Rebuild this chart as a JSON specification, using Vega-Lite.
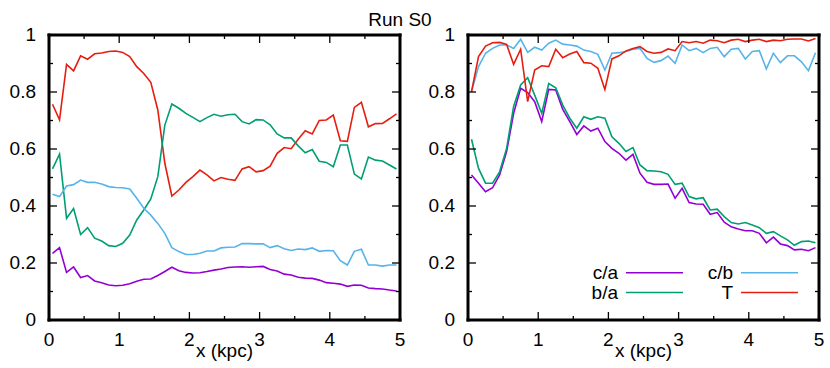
{
"$schema":"https://vega.github.io/schema/vega-lite/v6.json",
"padding":{"left":9,"top":11,"right":5,"bottom":5},
"title":{"text":"Run S0","fontSize":19,"fontWeight":"normal","font":"Liberation Sans","color":"black","anchor":"middle","dx":-17,"offset":-4},
"config":{"font":"Liberation Sans","view":{"stroke":null},"text":{"font":"Liberation Sans","fontSize":19,"color":"black"}},
"spacing":22,
"resolve":{"scale":{"color":"independent"},"legend":{"color":"independent"}},
"datasets":{
"xframe":[{"v":0},{"v":5}],
"yframe":[{"v":0},{"v":1}],
"xmaj":[{"v":0},{"v":1},{"v":2},{"v":3},{"v":4},{"v":5}],
"xmin":[{"v":0.5},{"v":1.5},{"v":2.5},{"v":3.5},{"v":4.5}],
"ymaj":[{"v":0},{"v":0.2},{"v":0.4},{"v":0.6},{"v":0.8},{"v":1}],
"ymin":[{"v":0.1},{"v":0.3},{"v":0.5},{"v":0.7},{"v":0.9}],
"xtitle":[{"t":"x (kpc)"}],
"left":[
{"s":"T","x":0.05,"y":0.757},{"s":"T","x":0.15,"y":0.702},{"s":"T","x":0.25,"y":0.897},{"s":"T","x":0.35,"y":0.874},{"s":"T","x":0.45,"y":0.927},{"s":"T","x":0.55,"y":0.915},{"s":"T","x":0.65,"y":0.934},{"s":"T","x":0.75,"y":0.937},{"s":"T","x":0.85,"y":0.942},{"s":"T","x":0.95,"y":0.944},
{"s":"T","x":1.05,"y":0.939},{"s":"T","x":1.15,"y":0.924},{"s":"T","x":1.25,"y":0.889},{"s":"T","x":1.35,"y":0.865},{"s":"T","x":1.45,"y":0.834},{"s":"T","x":1.55,"y":0.737},{"s":"T","x":1.65,"y":0.55},{"s":"T","x":1.75,"y":0.435},{"s":"T","x":1.85,"y":0.456},{"s":"T","x":1.95,"y":0.483},
{"s":"T","x":2.05,"y":0.503},{"s":"T","x":2.15,"y":0.526},{"s":"T","x":2.25,"y":0.509},{"s":"T","x":2.35,"y":0.488},{"s":"T","x":2.45,"y":0.5},{"s":"T","x":2.55,"y":0.494},{"s":"T","x":2.65,"y":0.49},{"s":"T","x":2.75,"y":0.53},{"s":"T","x":2.85,"y":0.538},{"s":"T","x":2.95,"y":0.52},
{"s":"T","x":3.05,"y":0.524},{"s":"T","x":3.15,"y":0.54},{"s":"T","x":3.25,"y":0.585},{"s":"T","x":3.35,"y":0.605},{"s":"T","x":3.45,"y":0.601},{"s":"T","x":3.55,"y":0.634},{"s":"T","x":3.65,"y":0.664},{"s":"T","x":3.75,"y":0.653},{"s":"T","x":3.85,"y":0.7},{"s":"T","x":3.95,"y":0.702},
{"s":"T","x":4.05,"y":0.719},{"s":"T","x":4.15,"y":0.629},{"s":"T","x":4.25,"y":0.627},{"s":"T","x":4.35,"y":0.746},{"s":"T","x":4.45,"y":0.764},{"s":"T","x":4.55,"y":0.678},{"s":"T","x":4.65,"y":0.689},{"s":"T","x":4.75,"y":0.69},{"s":"T","x":4.85,"y":0.706},{"s":"T","x":4.95,"y":0.723},
{"s":"b/a","x":0.05,"y":0.53},{"s":"b/a","x":0.15,"y":0.582},{"s":"b/a","x":0.25,"y":0.357},{"s":"b/a","x":0.35,"y":0.391},{"s":"b/a","x":0.45,"y":0.3},{"s":"b/a","x":0.55,"y":0.324},{"s":"b/a","x":0.65,"y":0.287},{"s":"b/a","x":0.75,"y":0.277},{"s":"b/a","x":0.85,"y":0.261},{"s":"b/a","x":0.95,"y":0.258},
{"s":"b/a","x":1.05,"y":0.269},{"s":"b/a","x":1.15,"y":0.298},{"s":"b/a","x":1.25,"y":0.351},{"s":"b/a","x":1.35,"y":0.386},{"s":"b/a","x":1.45,"y":0.425},{"s":"b/a","x":1.55,"y":0.503},{"s":"b/a","x":1.65,"y":0.684},{"s":"b/a","x":1.75,"y":0.758},{"s":"b/a","x":1.85,"y":0.743},{"s":"b/a","x":1.95,"y":0.725},
{"s":"b/a","x":2.05,"y":0.711},{"s":"b/a","x":2.15,"y":0.696},{"s":"b/a","x":2.25,"y":0.71},{"s":"b/a","x":2.35,"y":0.722},{"s":"b/a","x":2.45,"y":0.715},{"s":"b/a","x":2.55,"y":0.72},{"s":"b/a","x":2.65,"y":0.722},{"s":"b/a","x":2.75,"y":0.696},{"s":"b/a","x":2.85,"y":0.688},{"s":"b/a","x":2.95,"y":0.703},
{"s":"b/a","x":3.05,"y":0.702},{"s":"b/a","x":3.15,"y":0.685},{"s":"b/a","x":3.25,"y":0.653},{"s":"b/a","x":3.35,"y":0.639},{"s":"b/a","x":3.45,"y":0.639},{"s":"b/a","x":3.55,"y":0.611},{"s":"b/a","x":3.65,"y":0.587},{"s":"b/a","x":3.75,"y":0.598},{"s":"b/a","x":3.85,"y":0.557},{"s":"b/a","x":3.95,"y":0.553},
{"s":"b/a","x":4.05,"y":0.538},{"s":"b/a","x":4.15,"y":0.614},{"s":"b/a","x":4.25,"y":0.614},{"s":"b/a","x":4.35,"y":0.512},{"s":"b/a","x":4.45,"y":0.495},{"s":"b/a","x":4.55,"y":0.572},{"s":"b/a","x":4.65,"y":0.561},{"s":"b/a","x":4.75,"y":0.558},{"s":"b/a","x":4.85,"y":0.544},{"s":"b/a","x":4.95,"y":0.53},
{"s":"c/b","x":0.05,"y":0.441},{"s":"c/b","x":0.15,"y":0.433},{"s":"c/b","x":0.25,"y":0.47},{"s":"c/b","x":0.35,"y":0.475},{"s":"c/b","x":0.45,"y":0.491},{"s":"c/b","x":0.55,"y":0.483},{"s":"c/b","x":0.65,"y":0.483},{"s":"c/b","x":0.75,"y":0.477},{"s":"c/b","x":0.85,"y":0.468},{"s":"c/b","x":0.95,"y":0.465},
{"s":"c/b","x":1.05,"y":0.464},{"s":"c/b","x":1.15,"y":0.46},{"s":"c/b","x":1.25,"y":0.427},{"s":"c/b","x":1.35,"y":0.392},{"s":"c/b","x":1.45,"y":0.368},{"s":"c/b","x":1.55,"y":0.339},{"s":"c/b","x":1.65,"y":0.304},{"s":"c/b","x":1.75,"y":0.254},{"s":"c/b","x":1.85,"y":0.24},{"s":"c/b","x":1.95,"y":0.23},
{"s":"c/b","x":2.05,"y":0.23},{"s":"c/b","x":2.15,"y":0.234},{"s":"c/b","x":2.25,"y":0.242},{"s":"c/b","x":2.35,"y":0.242},{"s":"c/b","x":2.45,"y":0.253},{"s":"c/b","x":2.55,"y":0.255},{"s":"c/b","x":2.65,"y":0.256},{"s":"c/b","x":2.75,"y":0.268},{"s":"c/b","x":2.85,"y":0.268},{"s":"c/b","x":2.95,"y":0.267},
{"s":"c/b","x":3.05,"y":0.267},{"s":"c/b","x":3.15,"y":0.254},{"s":"c/b","x":3.25,"y":0.261},{"s":"c/b","x":3.35,"y":0.25},{"s":"c/b","x":3.45,"y":0.244},{"s":"c/b","x":3.55,"y":0.249},{"s":"c/b","x":3.65,"y":0.247},{"s":"c/b","x":3.75,"y":0.253},{"s":"c/b","x":3.85,"y":0.241},{"s":"c/b","x":3.95,"y":0.244},
{"s":"c/b","x":4.05,"y":0.243},{"s":"c/b","x":4.15,"y":0.208},{"s":"c/b","x":4.25,"y":0.193},{"s":"c/b","x":4.35,"y":0.241},{"s":"c/b","x":4.45,"y":0.248},{"s":"c/b","x":4.55,"y":0.193},{"s":"c/b","x":4.65,"y":0.193},{"s":"c/b","x":4.75,"y":0.189},{"s":"c/b","x":4.85,"y":0.193},{"s":"c/b","x":4.95,"y":0.193},
{"s":"c/a","x":0.05,"y":0.234},{"s":"c/a","x":0.15,"y":0.254},{"s":"c/a","x":0.25,"y":0.167},{"s":"c/a","x":0.35,"y":0.186},{"s":"c/a","x":0.45,"y":0.149},{"s":"c/a","x":0.55,"y":0.156},{"s":"c/a","x":0.65,"y":0.137},{"s":"c/a","x":0.75,"y":0.131},{"s":"c/a","x":0.85,"y":0.123},{"s":"c/a","x":0.95,"y":0.12},
{"s":"c/a","x":1.05,"y":0.122},{"s":"c/a","x":1.15,"y":0.127},{"s":"c/a","x":1.25,"y":0.136},{"s":"c/a","x":1.35,"y":0.143},{"s":"c/a","x":1.45,"y":0.144},{"s":"c/a","x":1.55,"y":0.156},{"s":"c/a","x":1.65,"y":0.17},{"s":"c/a","x":1.75,"y":0.185},{"s":"c/a","x":1.85,"y":0.173},{"s":"c/a","x":1.95,"y":0.167},
{"s":"c/a","x":2.05,"y":0.165},{"s":"c/a","x":2.15,"y":0.166},{"s":"c/a","x":2.25,"y":0.17},{"s":"c/a","x":2.35,"y":0.175},{"s":"c/a","x":2.45,"y":0.179},{"s":"c/a","x":2.55,"y":0.184},{"s":"c/a","x":2.65,"y":0.186},{"s":"c/a","x":2.75,"y":0.187},{"s":"c/a","x":2.85,"y":0.185},{"s":"c/a","x":2.95,"y":0.187},
{"s":"c/a","x":3.05,"y":0.188},{"s":"c/a","x":3.15,"y":0.177},{"s":"c/a","x":3.25,"y":0.172},{"s":"c/a","x":3.35,"y":0.161},{"s":"c/a","x":3.45,"y":0.158},{"s":"c/a","x":3.55,"y":0.15},{"s":"c/a","x":3.65,"y":0.147},{"s":"c/a","x":3.75,"y":0.146},{"s":"c/a","x":3.85,"y":0.14},{"s":"c/a","x":3.95,"y":0.131},
{"s":"c/a","x":4.05,"y":0.129},{"s":"c/a","x":4.15,"y":0.126},{"s":"c/a","x":4.25,"y":0.118},{"s":"c/a","x":4.35,"y":0.123},{"s":"c/a","x":4.45,"y":0.122},{"s":"c/a","x":4.55,"y":0.112},{"s":"c/a","x":4.65,"y":0.11},{"s":"c/a","x":4.75,"y":0.109},{"s":"c/a","x":4.85,"y":0.105},{"s":"c/a","x":4.95,"y":0.102}
],
"right":[
{"s":"c/a","x":0.05,"y":0.509},{"s":"c/a","x":0.15,"y":0.48},{"s":"c/a","x":0.25,"y":0.45},{"s":"c/a","x":0.35,"y":0.464},{"s":"c/a","x":0.45,"y":0.509},{"s":"c/a","x":0.55,"y":0.591},{"s":"c/a","x":0.65,"y":0.725},{"s":"c/a","x":0.75,"y":0.813},{"s":"c/a","x":0.85,"y":0.798},{"s":"c/a","x":0.95,"y":0.766},
{"s":"c/a","x":1.05,"y":0.696},{"s":"c/a","x":1.15,"y":0.809},{"s":"c/a","x":1.25,"y":0.807},{"s":"c/a","x":1.35,"y":0.739},{"s":"c/a","x":1.45,"y":0.696},{"s":"c/a","x":1.55,"y":0.651},{"s":"c/a","x":1.65,"y":0.681},{"s":"c/a","x":1.75,"y":0.663},{"s":"c/a","x":1.85,"y":0.673},{"s":"c/a","x":1.95,"y":0.626},
{"s":"c/a","x":2.05,"y":0.602},{"s":"c/a","x":2.15,"y":0.585},{"s":"c/a","x":2.25,"y":0.561},{"s":"c/a","x":2.35,"y":0.581},{"s":"c/a","x":2.45,"y":0.515},{"s":"c/a","x":2.55,"y":0.483},{"s":"c/a","x":2.65,"y":0.476},{"s":"c/a","x":2.75,"y":0.476},{"s":"c/a","x":2.85,"y":0.477},{"s":"c/a","x":2.95,"y":0.427},
{"s":"c/a","x":3.05,"y":0.462},{"s":"c/a","x":3.15,"y":0.412},{"s":"c/a","x":3.25,"y":0.407},{"s":"c/a","x":3.35,"y":0.406},{"s":"c/a","x":3.45,"y":0.371},{"s":"c/a","x":3.55,"y":0.377},{"s":"c/a","x":3.65,"y":0.343},{"s":"c/a","x":3.75,"y":0.327},{"s":"c/a","x":3.85,"y":0.319},{"s":"c/a","x":3.95,"y":0.313},
{"s":"c/a","x":4.05,"y":0.313},{"s":"c/a","x":4.15,"y":0.304},{"s":"c/a","x":4.25,"y":0.271},{"s":"c/a","x":4.35,"y":0.291},{"s":"c/a","x":4.45,"y":0.267},{"s":"c/a","x":4.55,"y":0.261},{"s":"c/a","x":4.65,"y":0.246},{"s":"c/a","x":4.75,"y":0.248},{"s":"c/a","x":4.85,"y":0.243},{"s":"c/a","x":4.95,"y":0.254},
{"s":"b/a","x":0.05,"y":0.634},{"s":"b/a","x":0.15,"y":0.532},{"s":"b/a","x":0.25,"y":0.48},{"s":"b/a","x":0.35,"y":0.48},{"s":"b/a","x":0.45,"y":0.52},{"s":"b/a","x":0.55,"y":0.602},{"s":"b/a","x":0.65,"y":0.749},{"s":"b/a","x":0.75,"y":0.825},{"s":"b/a","x":0.85,"y":0.85},{"s":"b/a","x":0.95,"y":0.789},
{"s":"b/a","x":1.05,"y":0.725},{"s":"b/a","x":1.15,"y":0.83},{"s":"b/a","x":1.25,"y":0.815},{"s":"b/a","x":1.35,"y":0.754},{"s":"b/a","x":1.45,"y":0.708},{"s":"b/a","x":1.55,"y":0.673},{"s":"b/a","x":1.65,"y":0.713},{"s":"b/a","x":1.75,"y":0.704},{"s":"b/a","x":1.85,"y":0.713},{"s":"b/a","x":1.95,"y":0.708},
{"s":"b/a","x":2.05,"y":0.643},{"s":"b/a","x":2.15,"y":0.62},{"s":"b/a","x":2.25,"y":0.591},{"s":"b/a","x":2.35,"y":0.605},{"s":"b/a","x":2.45,"y":0.544},{"s":"b/a","x":2.55,"y":0.524},{"s":"b/a","x":2.65,"y":0.523},{"s":"b/a","x":2.75,"y":0.52},{"s":"b/a","x":2.85,"y":0.511},{"s":"b/a","x":2.95,"y":0.476},
{"s":"b/a","x":3.05,"y":0.48},{"s":"b/a","x":3.15,"y":0.433},{"s":"b/a","x":3.25,"y":0.425},{"s":"b/a","x":3.35,"y":0.429},{"s":"b/a","x":3.45,"y":0.386},{"s":"b/a","x":3.55,"y":0.389},{"s":"b/a","x":3.65,"y":0.363},{"s":"b/a","x":3.75,"y":0.342},{"s":"b/a","x":3.85,"y":0.337},{"s":"b/a","x":3.95,"y":0.342},
{"s":"b/a","x":4.05,"y":0.333},{"s":"b/a","x":4.15,"y":0.324},{"s":"b/a","x":4.25,"y":0.304},{"s":"b/a","x":4.35,"y":0.31},{"s":"b/a","x":4.45,"y":0.295},{"s":"b/a","x":4.55,"y":0.281},{"s":"b/a","x":4.65,"y":0.262},{"s":"b/a","x":4.75,"y":0.275},{"s":"b/a","x":4.85,"y":0.277},{"s":"b/a","x":4.95,"y":0.271},
{"s":"c/b","x":0.05,"y":0.801},{"s":"c/b","x":0.15,"y":0.889},{"s":"c/b","x":0.25,"y":0.936},{"s":"c/b","x":0.35,"y":0.953},{"s":"c/b","x":0.45,"y":0.965},{"s":"c/b","x":0.55,"y":0.965},{"s":"c/b","x":0.65,"y":0.953},{"s":"c/b","x":0.75,"y":0.985},{"s":"c/b","x":0.85,"y":0.939},{"s":"c/b","x":0.95,"y":0.957},
{"s":"c/b","x":1.05,"y":0.947},{"s":"c/b","x":1.15,"y":0.971},{"s":"c/b","x":1.25,"y":0.982},{"s":"c/b","x":1.35,"y":0.968},{"s":"c/b","x":1.45,"y":0.965},{"s":"c/b","x":1.55,"y":0.961},{"s":"c/b","x":1.65,"y":0.947},{"s":"c/b","x":1.75,"y":0.942},{"s":"c/b","x":1.85,"y":0.932},{"s":"c/b","x":1.95,"y":0.877},
{"s":"c/b","x":2.05,"y":0.936},{"s":"c/b","x":2.15,"y":0.938},{"s":"c/b","x":2.25,"y":0.942},{"s":"c/b","x":2.35,"y":0.95},{"s":"c/b","x":2.45,"y":0.953},{"s":"c/b","x":2.55,"y":0.918},{"s":"c/b","x":2.65,"y":0.904},{"s":"c/b","x":2.75,"y":0.91},{"s":"c/b","x":2.85,"y":0.926},{"s":"c/b","x":2.95,"y":0.901},
{"s":"c/b","x":3.05,"y":0.965},{"s":"c/b","x":3.15,"y":0.945},{"s":"c/b","x":3.25,"y":0.953},{"s":"c/b","x":3.35,"y":0.938},{"s":"c/b","x":3.45,"y":0.953},{"s":"c/b","x":3.55,"y":0.957},{"s":"c/b","x":3.65,"y":0.924},{"s":"c/b","x":3.75,"y":0.95},{"s":"c/b","x":3.85,"y":0.953},{"s":"c/b","x":3.95,"y":0.916},
{"s":"c/b","x":4.05,"y":0.942},{"s":"c/b","x":4.15,"y":0.945},{"s":"c/b","x":4.25,"y":0.881},{"s":"c/b","x":4.35,"y":0.936},{"s":"c/b","x":4.45,"y":0.903},{"s":"c/b","x":4.55,"y":0.927},{"s":"c/b","x":4.65,"y":0.927},{"s":"c/b","x":4.75,"y":0.906},{"s":"c/b","x":4.85,"y":0.875},{"s":"c/b","x":4.95,"y":0.938},
{"s":"T","x":0.05,"y":0.801},{"s":"T","x":0.15,"y":0.924},{"s":"T","x":0.25,"y":0.961},{"s":"T","x":0.35,"y":0.973},{"s":"T","x":0.45,"y":0.974},{"s":"T","x":0.55,"y":0.967},{"s":"T","x":0.65,"y":0.897},{"s":"T","x":0.75,"y":0.95},{"s":"T","x":0.85,"y":0.766},{"s":"T","x":0.95,"y":0.877},
{"s":"T","x":1.05,"y":0.892},{"s":"T","x":1.15,"y":0.889},{"s":"T","x":1.25,"y":0.95},{"s":"T","x":1.35,"y":0.92},{"s":"T","x":1.45,"y":0.933},{"s":"T","x":1.55,"y":0.942},{"s":"T","x":1.65,"y":0.903},{"s":"T","x":1.75,"y":0.901},{"s":"T","x":1.85,"y":0.883},{"s":"T","x":1.95,"y":0.809},
{"s":"T","x":2.05,"y":0.916},{"s":"T","x":2.15,"y":0.927},{"s":"T","x":2.25,"y":0.944},{"s":"T","x":2.35,"y":0.953},{"s":"T","x":2.45,"y":0.959},{"s":"T","x":2.55,"y":0.942},{"s":"T","x":2.65,"y":0.936},{"s":"T","x":2.75,"y":0.939},{"s":"T","x":2.85,"y":0.951},{"s":"T","x":2.95,"y":0.945},
{"s":"T","x":3.05,"y":0.977},{"s":"T","x":3.15,"y":0.973},{"s":"T","x":3.25,"y":0.977},{"s":"T","x":3.35,"y":0.971},{"s":"T","x":3.45,"y":0.982},{"s":"T","x":3.55,"y":0.98},{"s":"T","x":3.65,"y":0.973},{"s":"T","x":3.75,"y":0.982},{"s":"T","x":3.85,"y":0.985},{"s":"T","x":3.95,"y":0.977},
{"s":"T","x":4.05,"y":0.982},{"s":"T","x":4.15,"y":0.985},{"s":"T","x":4.25,"y":0.977},{"s":"T","x":4.35,"y":0.982},{"s":"T","x":4.45,"y":0.98},{"s":"T","x":4.55,"y":0.985},{"s":"T","x":4.65,"y":0.986},{"s":"T","x":4.75,"y":0.986},{"s":"T","x":4.85,"y":0.979},{"s":"T","x":4.95,"y":0.988}
]},
"hconcat":[
{"width":351,"height":285,
"layer":[
{"data":{"name":"left"},"mark":{"type":"line","strokeWidth":1.6},
"encoding":{
"x":{"field":"x","type":"quantitative","scale":{"domain":[0,5],"nice":false,"zero":false},"axis":null},
"y":{"field":"y","type":"quantitative","scale":{"domain":[0,1],"nice":false},"axis":null},
"color":{"field":"s","type":"nominal","scale":{"domain":["c/a","b/a","c/b","T"],"range":["#9400d3","#009e73","#56b4e9","#e51e10"]},"legend":null}}},
{"data":{"name":"xmaj"},"mark":{"type":"rule","color":"black","strokeWidth":1.3,"y2Offset":-8},"encoding":{"x":{"field":"v","type":"quantitative","axis":null},"y":{"datum":0,"type":"quantitative","axis":null},"y2":{"datum":0}}},
{"data":{"name":"xmaj"},"mark":{"type":"rule","color":"black","strokeWidth":1.3,"y2Offset":8},"encoding":{"x":{"field":"v","type":"quantitative","axis":null},"y":{"datum":1,"type":"quantitative","axis":null},"y2":{"datum":1}}},
{"data":{"name":"xmin"},"mark":{"type":"rule","color":"black","strokeWidth":1.3,"y2Offset":-4},"encoding":{"x":{"field":"v","type":"quantitative","axis":null},"y":{"datum":0,"type":"quantitative","axis":null},"y2":{"datum":0}}},
{"data":{"name":"xmin"},"mark":{"type":"rule","color":"black","strokeWidth":1.3,"y2Offset":4},"encoding":{"x":{"field":"v","type":"quantitative","axis":null},"y":{"datum":1,"type":"quantitative","axis":null},"y2":{"datum":1}}},
{"data":{"name":"ymaj"},"mark":{"type":"rule","color":"black","strokeWidth":1.3,"x2Offset":8},"encoding":{"y":{"field":"v","type":"quantitative","axis":null},"x":{"datum":0,"type":"quantitative","axis":null},"x2":{"datum":0}}},
{"data":{"name":"ymaj"},"mark":{"type":"rule","color":"black","strokeWidth":1.3,"x2Offset":-8},"encoding":{"y":{"field":"v","type":"quantitative","axis":null},"x":{"datum":5,"type":"quantitative","axis":null},"x2":{"datum":5}}},
{"data":{"name":"ymin"},"mark":{"type":"rule","color":"black","strokeWidth":1.3,"x2Offset":4},"encoding":{"y":{"field":"v","type":"quantitative","axis":null},"x":{"datum":0,"type":"quantitative","axis":null},"x2":{"datum":0}}},
{"data":{"name":"ymin"},"mark":{"type":"rule","color":"black","strokeWidth":1.3,"x2Offset":-4},"encoding":{"y":{"field":"v","type":"quantitative","axis":null},"x":{"datum":5,"type":"quantitative","axis":null},"x2":{"datum":5}}},
{"data":{"name":"xframe"},"mark":{"type":"rule","color":"black","strokeWidth":3,"strokeCap":"square"},"encoding":{"x":{"field":"v","type":"quantitative","axis":null}}},
{"data":{"name":"yframe"},"mark":{"type":"rule","color":"black","strokeWidth":3,"strokeCap":"square"},"encoding":{"y":{"field":"v","type":"quantitative","axis":null}}},
{"data":{"name":"xmaj"},"mark":{"type":"text","align":"center","baseline":"top","dy":11,"fontSize":19,"font":"Liberation Sans","color":"black"},"encoding":{"x":{"field":"v","type":"quantitative","axis":null},"y":{"datum":0,"type":"quantitative","axis":null},"text":{"field":"v","type":"quantitative","format":"~g"}}},
{"data":{"name":"ymaj"},"mark":{"type":"text","align":"right","baseline":"middle","dx":-13,"fontSize":19,"font":"Liberation Sans","color":"black"},"encoding":{"y":{"field":"v","type":"quantitative","axis":null},"x":{"datum":0,"type":"quantitative","axis":null},"text":{"field":"v","type":"quantitative","format":"~g"}}},
{"data":{"name":"xtitle"},"mark":{"type":"text","align":"center","baseline":"alphabetic","dy":37,"fontSize":19,"font":"Liberation Sans","color":"black"},"encoding":{"x":{"datum":2.5,"type":"quantitative","axis":null},"y":{"datum":0,"type":"quantitative","axis":null},"text":{"field":"t","type":"nominal"}}}
]},
{"width":351,"height":285,
"layer":[
{"data":{"name":"right"},"mark":{"type":"line","strokeWidth":1.6},
"encoding":{
"x":{"field":"x","type":"quantitative","scale":{"domain":[0,5],"nice":false,"zero":false},"axis":null},
"y":{"field":"y","type":"quantitative","scale":{"domain":[0,1],"nice":false},"axis":null},
"color":{"field":"s","type":"nominal","scale":{"domain":["c/a","b/a","c/b","T"],"range":["#9400d3","#009e73","#56b4e9","#e51e10"]},
"legend":{"orient":"bottom-right","offset":17,"title":null,"columns":2,"symbolType":"M-10,0H10","symbolSize":32.5,"symbolStrokeWidth":1.6,"rowPadding":-1.5,"columnPadding":20,"labelAlign":"right","labelOffset":-46,"labelFontSize":19,"labelFont":"Liberation Sans","labelColor":"black","padding":0,"labelLimit":0}}}},
{"data":{"name":"xmaj"},"mark":{"type":"rule","color":"black","strokeWidth":1.3,"y2Offset":-8},"encoding":{"x":{"field":"v","type":"quantitative","axis":null},"y":{"datum":0,"type":"quantitative","axis":null},"y2":{"datum":0}}},
{"data":{"name":"xmaj"},"mark":{"type":"rule","color":"black","strokeWidth":1.3,"y2Offset":8},"encoding":{"x":{"field":"v","type":"quantitative","axis":null},"y":{"datum":1,"type":"quantitative","axis":null},"y2":{"datum":1}}},
{"data":{"name":"xmin"},"mark":{"type":"rule","color":"black","strokeWidth":1.3,"y2Offset":-4},"encoding":{"x":{"field":"v","type":"quantitative","axis":null},"y":{"datum":0,"type":"quantitative","axis":null},"y2":{"datum":0}}},
{"data":{"name":"xmin"},"mark":{"type":"rule","color":"black","strokeWidth":1.3,"y2Offset":4},"encoding":{"x":{"field":"v","type":"quantitative","axis":null},"y":{"datum":1,"type":"quantitative","axis":null},"y2":{"datum":1}}},
{"data":{"name":"ymaj"},"mark":{"type":"rule","color":"black","strokeWidth":1.3,"x2Offset":8},"encoding":{"y":{"field":"v","type":"quantitative","axis":null},"x":{"datum":0,"type":"quantitative","axis":null},"x2":{"datum":0}}},
{"data":{"name":"ymaj"},"mark":{"type":"rule","color":"black","strokeWidth":1.3,"x2Offset":-8},"encoding":{"y":{"field":"v","type":"quantitative","axis":null},"x":{"datum":5,"type":"quantitative","axis":null},"x2":{"datum":5}}},
{"data":{"name":"ymin"},"mark":{"type":"rule","color":"black","strokeWidth":1.3,"x2Offset":4},"encoding":{"y":{"field":"v","type":"quantitative","axis":null},"x":{"datum":0,"type":"quantitative","axis":null},"x2":{"datum":0}}},
{"data":{"name":"ymin"},"mark":{"type":"rule","color":"black","strokeWidth":1.3,"x2Offset":-4},"encoding":{"y":{"field":"v","type":"quantitative","axis":null},"x":{"datum":5,"type":"quantitative","axis":null},"x2":{"datum":5}}},
{"data":{"name":"xframe"},"mark":{"type":"rule","color":"black","strokeWidth":3,"strokeCap":"square"},"encoding":{"x":{"field":"v","type":"quantitative","axis":null}}},
{"data":{"name":"yframe"},"mark":{"type":"rule","color":"black","strokeWidth":3,"strokeCap":"square"},"encoding":{"y":{"field":"v","type":"quantitative","axis":null}}},
{"data":{"name":"xmaj"},"mark":{"type":"text","align":"center","baseline":"top","dy":11,"fontSize":19,"font":"Liberation Sans","color":"black"},"encoding":{"x":{"field":"v","type":"quantitative","axis":null},"y":{"datum":0,"type":"quantitative","axis":null},"text":{"field":"v","type":"quantitative","format":"~g"}}},
{"data":{"name":"ymaj"},"mark":{"type":"text","align":"right","baseline":"middle","dx":-13,"fontSize":19,"font":"Liberation Sans","color":"black"},"encoding":{"y":{"field":"v","type":"quantitative","axis":null},"x":{"datum":0,"type":"quantitative","axis":null},"text":{"field":"v","type":"quantitative","format":"~g"}}},
{"data":{"name":"xtitle"},"mark":{"type":"text","align":"center","baseline":"alphabetic","dy":37,"fontSize":19,"font":"Liberation Sans","color":"black"},"encoding":{"x":{"datum":2.5,"type":"quantitative","axis":null},"y":{"datum":0,"type":"quantitative","axis":null},"text":{"field":"t","type":"nominal"}}}
]}
]
}
